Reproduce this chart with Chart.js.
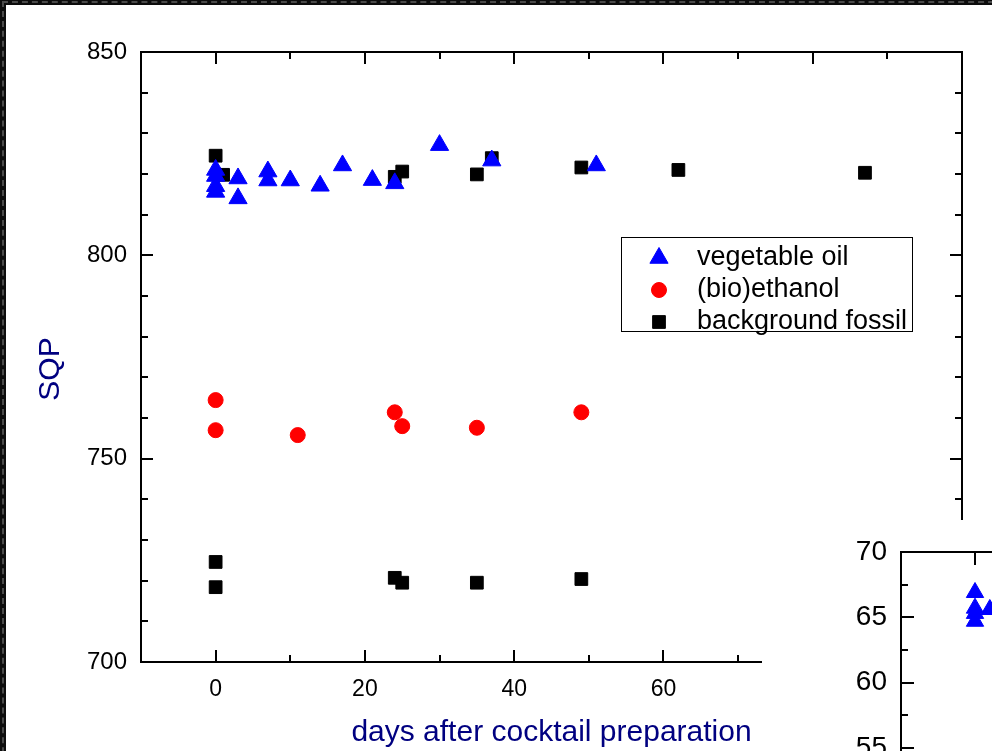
<!DOCTYPE html>
<html>
<head>
<meta charset="utf-8">
<script src="https://cdn.jsdelivr.net/npm/chart.js@4.4.1/dist/chart.umd.min.js"></script>
<style>
  body { margin: 0; width: 992px; height: 751px; overflow: hidden; position: relative; background: #0d0d0d; }
  #frame { position: absolute; left: 2px; top: 1px; width: 1000px; height: 800px;
           border-left: 2px dashed #4a4a4a; border-top: 2px dashed #4a4a4a; }
  #main { position: absolute; left: 6px; top: 5px; }
  #inset { position: absolute; left: 762px; top: 520px; }
</style>
</head>
<body>
<div id="frame"></div>
<canvas id="main" width="986" height="746"></canvas>
<canvas id="inset" width="1000" height="600"></canvas>
<script>
// vegetable oil (blue triangles)
const vegDays = [0, 0, 0, 0, 3, 3, 7, 7, 10, 14, 17, 21, 24, 30, 37, 51];
const vegSQP = [821.0, 819.5, 817.0, 815.6, 818.9, 814.0, 820.6, 818.4, 818.4, 817.1, 822.1, 818.5, 817.7, 827.1, 823.3, 822.1];

// (bio)ethanol (red circles)
const ethDays = [0, 0, 11, 24, 25, 35, 49];
const ethSQP = [764.4, 757.0, 755.8, 761.4, 758.0, 757.6, 761.4];

// background fossil (black squares)
const fosDays = [0, 1, 24, 25, 35, 37, 49, 62, 87, 0, 0, 24, 25, 35, 49];
const fosSQP = [824.5, 819.8, 819.3, 820.6, 819.9, 823.9, 821.6, 821.0, 820.3, 724.6, 718.4, 720.7, 719.5, 719.5, 720.4];

// inset (partly visible)
const insetDays = [0, 0, 0, 0, 2];
const insetVals = [66.9, 65.7, 65.3, 64.7, 65.6];

const seriesNames = ['vegetable oil', '(bio)ethanol', 'background fossil'];

Chart.defaults.font.family = '"Liberation Sans", Arial, sans-serif';
Chart.defaults.color = '#000';

const toPoints = (xs, ys) => xs.map((x, i) => ({ x: x, y: ys[i] }));

const whiteBg = {
    id: 'whiteBg',
    beforeDraw: (chart) => {
        const ctx = chart.ctx;
        ctx.save();
        ctx.fillStyle = '#ffffff';
        ctx.fillRect(0, 0, chart.width, chart.height);
        ctx.restore();
    }
};

// tick marks pointing inward on all four sides, long for labelled ticks
const inwardTicks = {
    id: 'inwardTicks',
    afterDatasetsDraw: (chart, args, opts) => {
        const ctx = chart.ctx;
        const a = chart.chartArea;
        const xs = chart.scales.x;
        const ys = chart.scales.y;
        ctx.save();
        ctx.strokeStyle = '#000';
        ctx.lineWidth = 2;
        ctx.beginPath();
        xs.ticks.forEach(t => {
            if (t.value <= xs.min || t.value >= xs.max) return;
            const px = Math.round(xs.getPixelForValue(t.value));
            const len = t.label !== '' ? opts.major : opts.minor;
            ctx.moveTo(px, a.bottom);
            ctx.lineTo(px, a.bottom - len);
            ctx.moveTo(px, a.top);
            ctx.lineTo(px, a.top + len);
        });
        ys.ticks.forEach(t => {
            if (t.value <= ys.min || t.value >= ys.max) return;
            const py = Math.round(ys.getPixelForValue(t.value));
            const len = t.label !== '' ? opts.major : opts.minor;
            ctx.moveTo(a.left, py);
            ctx.lineTo(a.left + len, py);
            ctx.moveTo(a.right, py);
            ctx.lineTo(a.right - len, py);
        });
        ctx.stroke();
        ctx.restore();
    }
};

// legend box inside the plot + rotated y title
const boxLegend = {
    id: 'boxLegend',
    afterDraw: (chart, args, opts) => {
        const ctx = chart.ctx;
        ctx.save();
        ctx.strokeStyle = '#000';
        ctx.lineWidth = 1;
        ctx.strokeRect(opts.left + 0.5, opts.top + 0.5, opts.width, opts.height);
        ctx.font = '27px "Liberation Sans", Arial, sans-serif';
        ctx.textBaseline = 'middle';
        chart.data.datasets.forEach((ds, i) => {
            const y = opts.top + opts.firstRow + i * opts.rowGap;
            ctx.fillStyle = ds.pointBackgroundColor;
            ctx.strokeStyle = ds.pointBorderColor;
            ctx.lineWidth = 1;
            Chart.helpers.drawPoint(ctx, {
                pointStyle: ds.pointStyle,
                radius: ds.legendRadius,
                rotation: 0,
                borderWidth: 1
            }, opts.left + opts.markerX, y);
            ctx.fillStyle = '#000';
            ctx.fillText(seriesNames[i], opts.left + opts.textX, y);
        });

        ctx.fillStyle = '#000080';
        ctx.font = '30px "Liberation Sans", Arial, sans-serif';
        ctx.textAlign = 'center';
        ctx.translate(45, 364);
        ctx.rotate(-Math.PI / 2);
        ctx.fillText('SQP', 0, 0);
        ctx.restore();
    }
};

new Chart(document.getElementById('main'), {
    type: 'scatter',
    data: {
        datasets: [
            {
                label: seriesNames[0],
                data: toPoints(vegDays, vegSQP),
                pointStyle: 'triangle',
                pointRadius: 10.5,
                pointHoverRadius: 10.5,
                legendRadius: 10.5,
                pointBackgroundColor: '#0000ff',
                pointBorderColor: '#0000ff',
                pointBorderWidth: 1
            },
            {
                label: seriesNames[1],
                data: toPoints(ethDays, ethSQP),
                pointStyle: 'circle',
                pointRadius: 7.5,
                pointHoverRadius: 7.5,
                legendRadius: 7.5,
                pointBackgroundColor: '#ff0000',
                pointBorderColor: '#ff0000',
                pointBorderWidth: 1
            },
            {
                label: seriesNames[2],
                data: toPoints(fosDays, fosSQP),
                pointStyle: 'rect',
                pointRadius: 9,
                pointHoverRadius: 9,
                legendRadius: 9,
                pointBackgroundColor: '#000000',
                pointBorderColor: '#000000',
                pointBorderWidth: 1
            }
        ]
    },
    options: {
        responsive: false,
        animation: false,
        layout: { padding: 0 },
        plugins: {
            legend: { display: false },
            tooltip: { enabled: false },
            inwardTicks: { major: 12, minor: 7 },
            boxLegend: { left: 615, top: 232, width: 291, height: 94, firstRow: 21, rowGap: 32, markerX: 38, textX: 76 }
        },
        scales: {
            x: {
                type: 'linear',
                position: 'bottom',
                min: -10,
                max: 100,
                border: { display: true, color: '#000', width: 2 },
                grid: { display: false, drawTicks: false },
                ticks: {
                    stepSize: 10,
                    autoSkip: false,
                    maxRotation: 0,
                    padding: 14,
                    color: '#000',
                    font: { size: 23 },
                    callback: v => (v % 20 === 0 && v < 100) ? v : ''
                },
                title: {
                    display: true,
                    text: 'days after cocktail preparation',
                    color: '#000080',
                    font: { size: 30 },
                    padding: { top: 0, bottom: 0 }
                },
                afterFit: s => { s.height = 89; }
            },
            x2: {
                type: 'linear',
                position: 'top',
                min: -10,
                max: 100,
                border: { display: true, color: '#000', width: 2 },
                grid: { display: false, drawTicks: false },
                ticks: { display: false },
                afterFit: s => { s.height = 47; }
            },
            y: {
                type: 'linear',
                position: 'left',
                min: 700,
                max: 850,
                border: { display: true, color: '#000', width: 2 },
                grid: { display: false, drawTicks: false },
                ticks: {
                    stepSize: 10,
                    autoSkip: false,
                    padding: 14,
                    color: '#000',
                    font: { size: 24 },
                    callback: v => v % 50 === 0 ? v : ''
                },
                afterFit: s => { s.width = 135; }
            },
            y2: {
                type: 'linear',
                position: 'right',
                min: 700,
                max: 850,
                border: { display: true, color: '#000', width: 2 },
                grid: { display: false, drawTicks: false },
                ticks: { display: false },
                afterFit: s => { s.width = 30; }
            }
        }
    },
    plugins: [whiteBg, inwardTicks, boxLegend]
});

new Chart(document.getElementById('inset'), {
    type: 'scatter',
    data: {
        datasets: [{
            label: seriesNames[0],
            data: toPoints(insetDays, insetVals),
            pointStyle: 'triangle',
            pointRadius: 10,
            pointHoverRadius: 10,
            pointBackgroundColor: '#0000ff',
            pointBorderColor: '#0000ff',
            pointBorderWidth: 1
        }]
    },
    options: {
        responsive: false,
        animation: false,
        layout: { padding: 0 },
        plugins: {
            legend: { display: false },
            tooltip: { enabled: false },
            inwardTicks: { major: 13, minor: 7 }
        },
        scales: {
            x: {
                type: 'linear',
                position: 'bottom',
                min: -10,
                max: 100,
                border: { display: true, color: '#000', width: 2 },
                grid: { display: false, drawTicks: false },
                ticks: {
                    stepSize: 10,
                    autoSkip: false,
                    maxRotation: 0,
                    padding: 14,
                    font: { size: 28 },
                    callback: v => v % 20 === 0 ? v : ''
                },
                afterFit: s => { s.height = 176; }
            },
            x2: {
                type: 'linear',
                position: 'top',
                min: -10,
                max: 100,
                border: { display: true, color: '#000', width: 2 },
                grid: { display: false, drawTicks: false },
                ticks: { display: false },
                afterFit: s => { s.height = 32; }
            },
            y: {
                type: 'linear',
                position: 'left',
                min: 40,
                max: 70,
                border: { display: true, color: '#000', width: 2 },
                grid: { display: false, drawTicks: false },
                ticks: {
                    stepSize: 2.5,
                    autoSkip: false,
                    padding: 14,
                    color: '#000',
                    font: { size: 28 },
                    callback: v => v % 5 === 0 ? v : ''
                },
                afterFit: s => { s.width = 139; }
            },
            y2: {
                type: 'linear',
                position: 'right',
                min: 40,
                max: 70,
                border: { display: true, color: '#000', width: 2 },
                grid: { display: false, drawTicks: false },
                ticks: { display: false },
                afterFit: s => { s.width = 47; }
            }
        }
    },
    plugins: [whiteBg, inwardTicks]
});
</script>
</body>
</html>
